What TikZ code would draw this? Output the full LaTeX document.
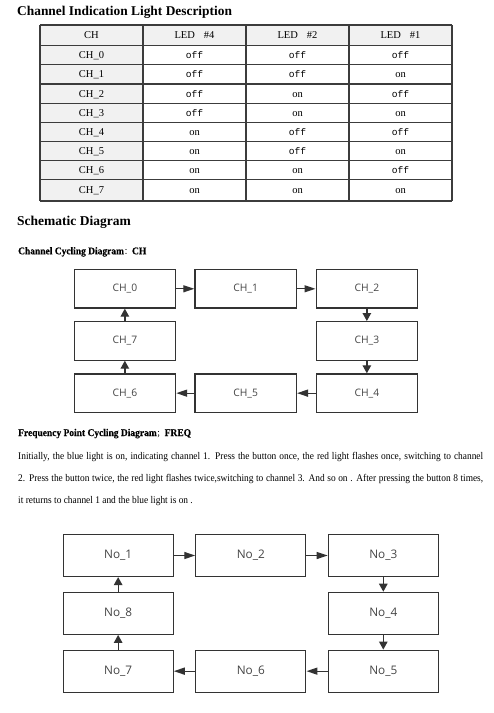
\documentclass[tikz,border=0pt]{standalone}
\usepackage{fontspec}
\setmainfont{Liberation Serif}
\newfontfamily\boxfont{Open Sans}
\newfontfamily\cjkfont{Noto Sans CJK SC}
\newfontfamily\offfont{Liberation Mono}
\newfontfamily\parafont[FakeStretch=0.92]{Liberation Serif}
\newfontfamily\subfont[FakeStretch=0.92,FakeBold=0.3]{Liberation Serif Bold}
\usetikzlibrary{arrows.meta}
\definecolor{tblfill}{HTML}{F1F1F1}
\definecolor{tblline}{HTML}{3C3C3C}
\definecolor{boxline}{HTML}{333333}
\definecolor{boxtext}{HTML}{444444}
\tikzset{
  tline/.style={draw=tblline, line width=1.3pt},
  cell/.style={inner sep=0pt, text height=7pt, text depth=0pt, font=\fontsize{10.5}{12}\selectfont},
  offcell/.style={cell, font=\offfont\fontsize{9.6}{12}\selectfont},
  heading/.style={anchor=base west, inner sep=0pt, font=\bfseries\fontsize{13.4}{16}\selectfont},
  subheading/.style={anchor=base west, inner sep=0pt, font=\subfont\fontsize{10.3}{12}\selectfont},
  para/.style={anchor=base west, inner sep=0pt, font=\parafont\fontsize{10.2}{12}\selectfont},
  chbox/.style={draw=boxline, line width=1.2pt, minimum width=101.5pt, minimum height=38.5pt, inner sep=0pt, text=boxtext, font=\boxfont\fontsize{10.3}{12}\selectfont},
  nobox/.style={draw=boxline, line width=1.2pt, minimum width=110pt, minimum height=42pt, inner sep=0pt, text=boxtext, font=\boxfont\fontsize{11.8}{13}\selectfont},
  harr/.style={draw=boxline, line width=1.3pt, -{Triangle[length=11pt,width=7pt]}},
  varr/.style={draw=boxline, line width=1.3pt, -{Triangle[length=8pt,width=8.5pt]}},
}
\begin{document}
\begin{tikzpicture}[x=1pt,y=-1pt]
\useasboundingbox (0,0) rectangle (494,713);
% ---------- title
\node[heading] (title) at (17,15.5) {Channel Indication Light Description};
% ---------- table
\fill[tblfill] (40,25) rectangle (452,45.7);
\fill[tblfill] (40,45.7) rectangle (143,201);
\foreach \yy in {25,45.7,64.7,84,103.3,122.3,141.3,160.3,179.7,201}
  \draw[tline] (40,\yy) -- (452,\yy);
\foreach \xx in {40,143,246,349,452}
  \draw[tline] (\xx,25) -- (\xx,201);
% header
\node[cell] (h0) at (91.5,35.35) {CH};
\node[cell] (h1) at (194.5,35.35) {LED\hspace{9pt}\#4};
\node[cell] (h2) at (297.5,35.35) {LED\hspace{9pt}\#2};
\node[cell] (h3) at (400.5,35.35) {LED\hspace{9pt}\#1};
% rows
\node[cell] (r0c0) at (91.5,55.2) {CH\_0};
\node[offcell] (r0c1) at (194.5,55.2) {off};
\node[offcell] (r0c2) at (297.5,55.2) {off};
\node[offcell] (r0c3) at (400.5,55.2) {off};
\node[cell] (r1c0) at (91.5,74.35) {CH\_1};
\node[offcell] (r1c1) at (194.5,74.35) {off};
\node[offcell] (r1c2) at (297.5,74.35) {off};
\node[cell] (r1c3) at (400.5,74.35) {on};
\node[cell] (r2c0) at (91.5,93.65) {CH\_2};
\node[offcell] (r2c1) at (194.5,93.65) {off};
\node[cell] (r2c2) at (297.5,93.65) {on};
\node[offcell] (r2c3) at (400.5,93.65) {off};
\node[cell] (r3c0) at (91.5,112.8) {CH\_3};
\node[offcell] (r3c1) at (194.5,112.8) {off};
\node[cell] (r3c2) at (297.5,112.8) {on};
\node[cell] (r3c3) at (400.5,112.8) {on};
\node[cell] (r4c0) at (91.5,131.8) {CH\_4};
\node[cell] (r4c1) at (194.5,131.8) {on};
\node[offcell] (r4c2) at (297.5,131.8) {off};
\node[offcell] (r4c3) at (400.5,131.8) {off};
\node[cell] (r5c0) at (91.5,150.8) {CH\_5};
\node[cell] (r5c1) at (194.5,150.8) {on};
\node[offcell] (r5c2) at (297.5,150.8) {off};
\node[cell] (r5c3) at (400.5,150.8) {on};
\node[cell] (r6c0) at (91.5,170) {CH\_6};
\node[cell] (r6c1) at (194.5,170) {on};
\node[cell] (r6c2) at (297.5,170) {on};
\node[offcell] (r6c3) at (400.5,170) {off};
\node[cell] (r7c0) at (91.5,190.35) {CH\_7};
\node[cell] (r7c1) at (194.5,190.35) {on};
\node[cell] (r7c2) at (297.5,190.35) {on};
\node[cell] (r7c3) at (400.5,190.35) {on};
% ---------- schematic
\node[heading, font=\bfseries\fontsize{13.5}{16}\selectfont] (schem) at (17,225) {Schematic Diagram};
\node[subheading] (chhead) at (18,254.3) {Channel Cycling Diagram{\cjkfont\fontsize{8}{10}\selectfont ：}CH};
% CH boxes
\node[chbox] (ch0) at (124.85,288.8) {CH\_0};
\node[chbox] (ch1) at (245.65,288.8) {CH\_1};
\node[chbox] (ch2) at (366.85,288.8) {CH\_2};
\node[chbox] (ch3) at (366.85,340.85) {CH\_3};
\node[chbox] (ch4) at (366.85,393.15) {CH\_4};
\node[chbox] (ch5) at (245.65,393.15) {CH\_5};
\node[chbox] (ch6) at (124.85,393.15) {CH\_6};
\node[chbox] (ch7) at (124.85,340.85) {CH\_7};
\draw[harr] (ch0) -- (ch1);
\draw[harr] (ch1) -- (ch2);
\draw[varr] (ch2) -- (ch3);
\draw[varr] (ch3) -- (ch4);
\draw[harr] (ch4) -- (ch5);
\draw[harr] (ch5) -- (ch6);
\draw[varr] (ch6) -- (ch7);
\draw[varr] (ch7) -- (ch0);
% ---------- frequency
\node[subheading] (fqhead) at (18,436) {Frequency Point Cycling Diagram{\cjkfont\fontsize{8}{10}\selectfont ；}FREQ};
\node[para] (p1) at (18,459.5) {\makebox[465pt][s]{Initially, the blue light is on, indicating channel 1. Press the button once, the red light flashes once, switching to channel}};
\node[para] (p2) at (18,481.5) {\makebox[465pt][s]{2. Press the button twice, the red light flashes twice,switching to channel 3. And so on . After pressing the button 8 times,}};
\node[para] (p3) at (18,503.5) {it returns to channel 1 and the blue light is on .};
% No boxes
\node[nobox] (no1) at (118.15,555.5) {No\_1};
\node[nobox] (no2) at (250.85,555.5) {No\_2};
\node[nobox] (no3) at (383.3,555.5) {No\_3};
\node[nobox] (no4) at (383.3,613.3) {No\_4};
\node[nobox] (no5) at (383.3,671.15) {No\_5};
\node[nobox] (no6) at (250.85,671.15) {No\_6};
\node[nobox] (no7) at (118.15,671.15) {No\_7};
\node[nobox] (no8) at (118.15,613.3) {No\_8};
\draw[harr] (no1) -- (no2);
\draw[harr] (no2) -- (no3);
\draw[varr] (no3) -- (no4);
\draw[varr] (no4) -- (no5);
\draw[harr] (no5) -- (no6);
\draw[harr] (no6) -- (no7);
\draw[varr] (no7) -- (no8);
\draw[varr] (no8) -- (no1);
\end{tikzpicture}
\end{document}
